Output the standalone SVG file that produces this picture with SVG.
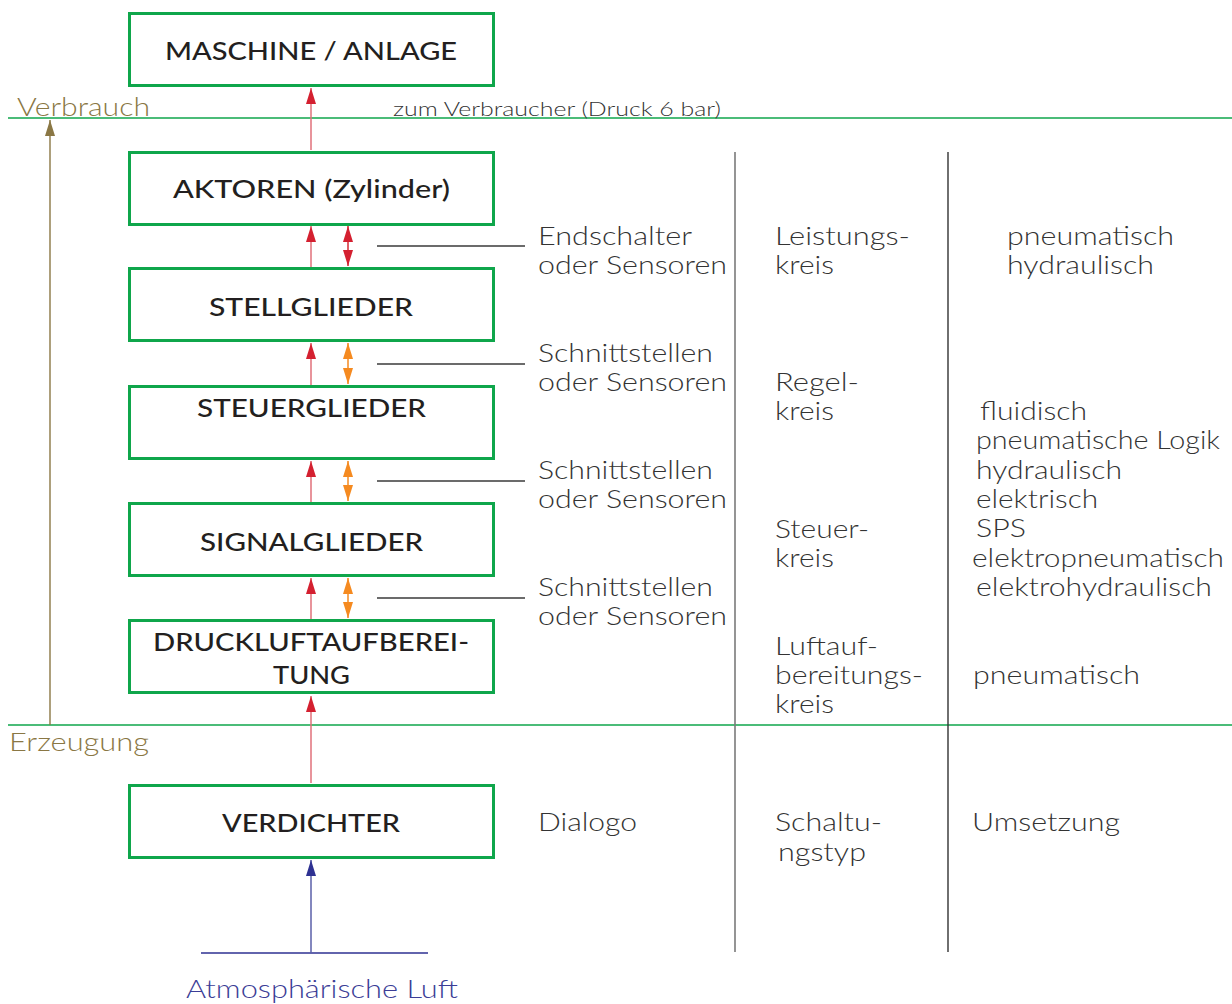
<svg xmlns="http://www.w3.org/2000/svg" width="1232" height="1004" viewBox="0 0 1232 1004">
<style>
.box{fill:#fff;stroke:#0fa64b;stroke-width:3}
.bt{font-family:Lato,"Liberation Sans",sans-serif;font-weight:500;font-size:24px;fill:#231f20;text-anchor:start}
.t{font-family:Lato,"Liberation Sans",sans-serif;font-weight:300;font-size:25px;fill:#333}
.sep{stroke:#0fa64b;stroke-width:1.6}
.col1{stroke:#7a7a7a;stroke-width:1.6}
.col2{stroke:#333;stroke-width:1.4}
.lead{stroke:#3a3a3a;stroke-width:1.4}
.red{stroke:#e0707a;stroke-width:1.5;fill:none}
.redd{stroke:#d42a35;stroke-width:1.5;fill:none}
.org{stroke:#f58a20;stroke-width:1.5;fill:none}
</style>
<defs>
<marker id="mr" viewBox="0 0 16 10" refX="16" refY="5" markerWidth="16" markerHeight="10" markerUnits="userSpaceOnUse" orient="auto-start-reverse"><path d="M0,0 L16,5 L0,10 Z" fill="#d42030"/></marker>
<marker id="mo" viewBox="0 0 16 10" refX="16" refY="5" markerWidth="16" markerHeight="10" markerUnits="userSpaceOnUse" orient="auto-start-reverse"><path d="M0,0 L16,5 L0,10 Z" fill="#f58a20"/></marker>
<marker id="mb" viewBox="0 0 16 10" refX="16" refY="5" markerWidth="16" markerHeight="10" markerUnits="userSpaceOnUse" orient="auto"><path d="M0,0 L16,5 L0,10 Z" fill="#2e3192"/></marker>
<marker id="mg" viewBox="0 0 16 10" refX="16" refY="5" markerWidth="16" markerHeight="10" markerUnits="userSpaceOnUse" orient="auto"><path d="M0,0 L16,5 L0,10 Z" fill="#8a7744"/></marker>
</defs>

<g id="guides">
<line class="sep" x1="8" y1="118" x2="1232" y2="118"/>
<line class="sep" x1="8" y1="725" x2="1232" y2="725"/>
<line class="col1" x1="735" y1="152" x2="735" y2="952"/>
<line class="col2" x1="948" y1="152" x2="948" y2="952"/>
<line stroke="#2e3192" stroke-width="1.6" x1="201" y1="953" x2="428" y2="953"/>
</g>

<g id="connectors">
<line stroke="#8a7744" stroke-width="1.4" x1="50" y1="725" x2="50" y2="120" marker-end="url(#mg)"/>
<line class="red" x1="311" y1="150" x2="311" y2="88" marker-end="url(#mr)"/>
<line class="red" x1="311" y1="267" x2="311" y2="226" marker-end="url(#mr)"/>
<line class="redd" x1="348" y1="226" x2="348" y2="266" marker-start="url(#mr)" marker-end="url(#mr)"/>
<line class="red" x1="311" y1="385" x2="311" y2="343" marker-end="url(#mr)"/>
<line class="org" x1="348" y1="343" x2="348" y2="384" marker-start="url(#mo)" marker-end="url(#mo)"/>
<line class="red" x1="311" y1="502" x2="311" y2="461" marker-end="url(#mr)"/>
<line class="org" x1="348" y1="461" x2="348" y2="501" marker-start="url(#mo)" marker-end="url(#mo)"/>
<line class="red" x1="311" y1="619" x2="311" y2="578" marker-end="url(#mr)"/>
<line class="org" x1="348" y1="578" x2="348" y2="618" marker-start="url(#mo)" marker-end="url(#mo)"/>
<line class="red" x1="311" y1="783" x2="311" y2="696" marker-end="url(#mr)"/>
<line stroke="#5a5fa8" stroke-width="1.5" x1="311" y1="953" x2="311" y2="860" marker-end="url(#mb)"/>
<line class="lead" x1="377" y1="246" x2="525" y2="246"/>
<line class="lead" x1="377" y1="364" x2="525" y2="364"/>
<line class="lead" x1="377" y1="481" x2="525" y2="481"/>
<line class="lead" x1="377" y1="598" x2="525" y2="598"/>
</g>

<g id="n-maschine"><rect class="box" x="129.5" y="13.5" width="364" height="72"/><text class="bt" x="165" y="60" textLength="292" lengthAdjust="spacingAndGlyphs">MASCHINE / ANLAGE</text></g>
<g id="n-aktoren"><rect class="box" x="129.5" y="152.5" width="364" height="72"/><text class="bt" x="173" y="198" textLength="277" lengthAdjust="spacingAndGlyphs">AKTOREN (Zylinder)</text></g>
<g id="n-stellglieder"><rect class="box" x="129.5" y="268.5" width="364" height="72"/><text class="bt" x="209" y="316" textLength="204" lengthAdjust="spacingAndGlyphs">STELLGLIEDER</text></g>
<g id="n-steuerglieder"><rect class="box" x="129.5" y="386.5" width="364" height="72"/><text class="bt" x="197" y="417" textLength="229" lengthAdjust="spacingAndGlyphs">STEUERGLIEDER</text></g>
<g id="n-signalglieder"><rect class="box" x="129.5" y="503.5" width="364" height="72"/><text class="bt" x="200" y="551" textLength="223" lengthAdjust="spacingAndGlyphs">SIGNALGLIEDER</text></g>
<g id="n-druckluft"><rect class="box" x="129.5" y="620.5" width="364" height="72"/><text class="bt" x="153" y="651" textLength="316" lengthAdjust="spacingAndGlyphs">DRUCKLUFTAUFBEREI-</text><text class="bt" x="273" y="684" textLength="77" lengthAdjust="spacingAndGlyphs">TUNG</text></g>
<g id="n-verdichter"><rect class="box" x="129.5" y="785.5" width="364" height="72"/><text class="bt" x="222" y="832" textLength="178" lengthAdjust="spacingAndGlyphs">VERDICHTER</text></g>

<g id="labels">
<text class="t" x="17" y="116" style="fill:#8a7744" textLength="133" lengthAdjust="spacingAndGlyphs">Verbrauch</text>
<text class="t" x="393" y="116" style="font-size:19px" textLength="328" lengthAdjust="spacingAndGlyphs">zum Verbraucher (Druck 6 bar)</text>
<text class="t" x="9" y="751" style="fill:#8a7744" textLength="140" lengthAdjust="spacingAndGlyphs">Erzeugung</text>
<text class="t" x="186" y="998" style="fill:#3b3d96" textLength="272" lengthAdjust="spacingAndGlyphs">Atmosphärische Luft</text>

<text class="t" x="538" y="245" textLength="154" lengthAdjust="spacingAndGlyphs">Endschalter</text>
<text class="t" x="538" y="274" textLength="189" lengthAdjust="spacingAndGlyphs">oder Sensoren</text>
<text class="t" x="538" y="362" textLength="175" lengthAdjust="spacingAndGlyphs">Schnittstellen</text>
<text class="t" x="538" y="391" textLength="189" lengthAdjust="spacingAndGlyphs">oder Sensoren</text>
<text class="t" x="538" y="479" textLength="175" lengthAdjust="spacingAndGlyphs">Schnittstellen</text>
<text class="t" x="538" y="508" textLength="189" lengthAdjust="spacingAndGlyphs">oder Sensoren</text>
<text class="t" x="538" y="596" textLength="175" lengthAdjust="spacingAndGlyphs">Schnittstellen</text>
<text class="t" x="538" y="625" textLength="189" lengthAdjust="spacingAndGlyphs">oder Sensoren</text>

<text class="t" x="775" y="245" textLength="135" lengthAdjust="spacingAndGlyphs">Leistungs-</text>
<text class="t" x="775" y="274" textLength="59" lengthAdjust="spacingAndGlyphs">kreis</text>
<text class="t" x="775" y="391" textLength="84" lengthAdjust="spacingAndGlyphs">Regel-</text>
<text class="t" x="775" y="420" textLength="59" lengthAdjust="spacingAndGlyphs">kreis</text>
<text class="t" x="775" y="538" textLength="94" lengthAdjust="spacingAndGlyphs">Steuer-</text>
<text class="t" x="775" y="567" textLength="59" lengthAdjust="spacingAndGlyphs">kreis</text>
<text class="t" x="775" y="655" textLength="103" lengthAdjust="spacingAndGlyphs">Luftauf-</text>
<text class="t" x="775" y="684" textLength="148" lengthAdjust="spacingAndGlyphs">bereitungs-</text>
<text class="t" x="775" y="713" textLength="59" lengthAdjust="spacingAndGlyphs">kreis</text>

<text class="t" x="1007" y="245" textLength="167" lengthAdjust="spacingAndGlyphs">pneumatisch</text>
<text class="t" x="1007" y="274" textLength="147" lengthAdjust="spacingAndGlyphs">hydraulisch</text>
<text class="t" x="980" y="420" textLength="107" lengthAdjust="spacingAndGlyphs">fluidisch</text>
<text class="t" x="976" y="449" textLength="244" lengthAdjust="spacingAndGlyphs">pneumatische Logik</text>
<text class="t" x="976" y="479" textLength="146" lengthAdjust="spacingAndGlyphs">hydraulisch</text>
<text class="t" x="976" y="508" textLength="122" lengthAdjust="spacingAndGlyphs">elektrisch</text>
<text class="t" x="976" y="537" textLength="50" lengthAdjust="spacingAndGlyphs">SPS</text>
<text class="t" x="972" y="567" textLength="252" lengthAdjust="spacingAndGlyphs">elektropneumatisch</text>
<text class="t" x="976" y="596" textLength="236" lengthAdjust="spacingAndGlyphs">elektrohydraulisch</text>
<text class="t" x="973" y="684" textLength="167" lengthAdjust="spacingAndGlyphs">pneumatisch</text>

<text class="t" x="538" y="831" textLength="99" lengthAdjust="spacingAndGlyphs">Dialogo</text>
<text class="t" x="775" y="831" textLength="107" lengthAdjust="spacingAndGlyphs">Schaltu-</text>
<text class="t" x="778" y="861" textLength="88" lengthAdjust="spacingAndGlyphs">ngstyp</text>
<text class="t" x="972" y="831" textLength="148" lengthAdjust="spacingAndGlyphs">Umsetzung</text>
</g>
</svg>
